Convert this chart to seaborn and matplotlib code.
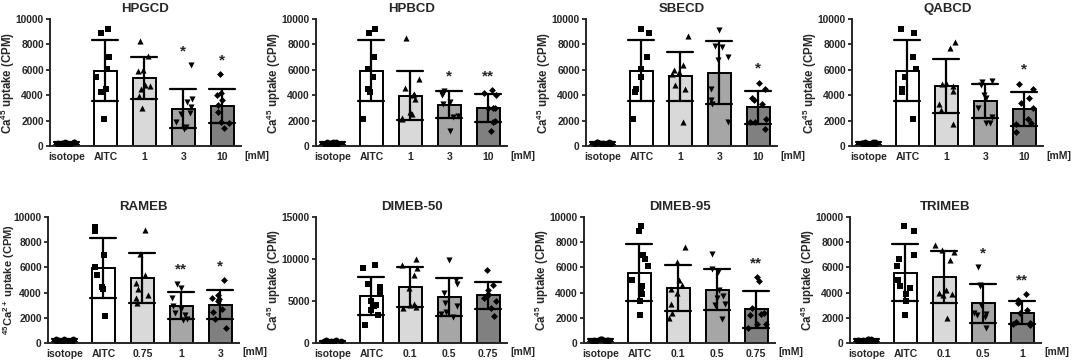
import numpy as np
import pandas as pd
import matplotlib
matplotlib.use("Agg")
import matplotlib.pyplot as plt
import seaborn as sns

sns.set_theme(style="ticks")
plt.rcParams['font.family'] = ['Liberation Sans', 'DejaVu Sans']
plt.rcParams['font.weight'] = 'bold'
plt.rcParams['mathtext.fontset'] = 'custom'
plt.rcParams['mathtext.rm'] = 'Liberation Sans:bold'
plt.rcParams['mathtext.bf'] = 'Liberation Sans:bold'
plt.rcParams['mathtext.it'] = 'Liberation Sans:bold'

# ---------------- data ----------------
titles = ["HPGCD", "HPBCD", "SBECD", "QABCD", "RAMEB", "DIMEB-50", "DIMEB-95", "TRIMEB"]
conc_labels = [["1", "3", "10"], ["1", "3", "10"], ["1", "3", "10"], ["1", "3", "10"],
               ["0.75", "1", "3"], ["0.1", "0.5", "0.75"], ["0.1", "0.5", "0.75"], ["0.1", "0.5", "1"]]
stars = [["", "*", "*"], ["", "*", "**"], ["", "", "*"], ["", "", "*"],
         ["", "**", "*"], ["", "", ""], ["", "", "**"], ["", "*", "**"]]
ymax = [10000, 10000, 10000, 10000, 10000, 15000, 10000, 10000]

isotope = [100, 150, 200, 250, 300, 350, 180, 120, 220, 280, 60, 140]
aitc_a = [9230, 8870, 7000, 6070, 5410, 4460, 4270, 2140]
aitc_b = [9300, 8900, 7000, 6700, 6100, 5000, 4500, 4400, 3900, 3300, 2200]

hpgcd = [[8300, 7050, 5950, 5900, 4800, 4700, 4500, 3950, 3000],
         [6350, 3700, 3500, 3100, 2600, 2500, 1900, 1500, 1300],
         [5650, 4050, 4150, 3600, 3200, 2700, 1900, 1800, 1400]]
hpbcd = [[8500, 5300, 4600, 4100, 4000, 3700, 2700, 2500, 2200, 2100],
         [4350, 4200, 4100, 4050, 3500, 3300, 2400, 2300, 1200],
         [4400, 4200, 4000, 3000, 3000, 3000, 2000, 1900, 1200]]
sbecd = [[8700, 6400, 6000, 5800, 5700, 4800, 4500, 1900],
         [9100, 7900, 7800, 7000, 6800, 4500, 3600, 3300, 1900],
         [5000, 4500, 3800, 3600, 3300, 2100, 1900, 1900, 1300]]
qabcd = [[8200, 7700, 5000, 4900, 4700, 4300, 3300, 2800, 1700],
         [5100, 5050, 4800, 4000, 3800, 3000, 2300, 1800, 1800],
         [4900, 4500, 3800, 3400, 3000, 2100, 1800, 1700, 1100]]
rameb = [[9000, 7100, 5400, 4800, 4300, 3800, 3600, 3200],
         [4700, 4400, 3600, 2900, 2700, 2400, 2200, 1900, 1800],
         [5000, 3800, 3600, 3500, 3300, 2700, 2500, 1900, 1200]]
dimeb50 = [[10000, 9300, 8900, 8100, 6500, 4700, 4500, 4300, 4200],
           [9900, 7500, 7000, 6000, 4800, 4400, 3700, 3400, 3100],
           [8700, 6900, 6300, 5800, 5600, 5400, 5000, 4200, 3200]]
dimeb95 = [[7600, 6400, 5000, 4600, 4300, 4000, 3100, 2400, 2000],
           [7100, 5900, 5600, 4200, 3700, 3600, 3100, 3000, 1900],
           [5200, 4900, 2800, 2400, 2300, 2200, 1500, 1500, 1200]]
trimeb = [[7800, 7400, 7200, 6600, 4200, 4000, 3900, 3800, 2000],
          [6000, 4600, 4500, 3000, 2400, 2300, 2200, 2100, 1200],
          [3900, 3400, 3200, 2600, 2400, 1700, 1600, 1500, 1400]]

treatments = [hpgcd, hpbcd, sbecd, qabcd, rameb, dimeb50, dimeb95, trimeb]
aitc_sets = [aitc_a, aitc_a, aitc_a, aitc_a, aitc_a, aitc_b, aitc_b, aitc_b]

ylabel_std = r"Ca$^{\mathbf{45}}$ uptake (CPM)"
ylabel_rameb = r"$^{\mathbf{45}}$Ca$^{\mathbf{2+}}$ uptake (CPM)"

# ---------------- style ----------------
bar_colors = ["white", "white", "#d9d9d9", "#a6a6a6", "#808080"]
markers = ["o", "s", "^", "v", "D"]
marker_sizes = [4.2, 4.4, 4.4, 4.4, 3.5]

W, H = 1072, 361
fig = plt.figure(figsize=(W / 100, H / 100), dpi=100)

lefts_top = [50, 316, 586, 852]
lefts_bot = [48, 316, 584, 850]
axw = 191

np.random.seed(3)
for i in range(8):
    row = i // 4
    col = i % 4
    if row == 0:
        left, top, bottom = lefts_top[col], 19, 146
    else:
        left, top, bottom = lefts_bot[col], 217, 343
    ax = fig.add_axes([left / W, 1 - bottom / H, axw / W, (bottom - top) / H])

    cats = ["isotope", "AITC"] + conc_labels[i]
    groups = [isotope, aitc_sets[i]] + treatments[i]
    rows = []
    for c, g in zip(cats, groups):
        for v in g:
            rows.append((c, v))
    df = pd.DataFrame(rows, columns=["group", "value"])

    sns.barplot(data=df, x="group", y="value", order=cats, hue="group",
                hue_order=cats, palette=bar_colors, legend=False,
                errorbar="sd", width=0.58, capsize=0.66,
                edgecolor="black", linewidth=1.4,
                err_kws={"color": "black", "linewidth": 1.6}, ax=ax)
    for j, (c, g) in enumerate(zip(cats, groups)):
        sub = df[df.group == c]
        sns.stripplot(data=sub, x="group", y="value", order=cats, color="black",
                      marker=markers[j], size=marker_sizes[j], jitter=0.24,
                      linewidth=0, ax=ax, zorder=3)

    # significance stars
    for j, s in enumerate(stars[i]):
        if s:
            top_val = max(treatments[i][j])
            ax.text(2 + j, top_val + ymax[i] * 0.11, s, ha="center", va="center",
                    fontsize=11, fontweight="bold")

    ax.set_xlim(-0.42, 4.48)
    ax.set_ylim(0, ymax[i])
    step = 5000 if ymax[i] == 15000 else 2000
    ticks = np.arange(0, ymax[i] + 1, step)
    ax.set_yticks(ticks)
    ax.set_yticklabels([str(int(t)) for t in ticks])
    ax.set_xlabel("")
    if i == 4:
        ax.set_ylabel(ylabel_rameb, fontsize=8.0, fontweight="bold")
        ax.yaxis.set_label_coords(-31 / axw, 0.5)
    else:
        ax.set_ylabel(ylabel_std, fontsize=8.3, fontweight="bold")
        ax.yaxis.set_label_coords(-33 / axw, 0.5)
    ax.set_title(titles[i], fontsize=9.5, fontweight="bold", pad=5)
    ax.tick_params(axis="y", labelsize=7.4, width=1.3, length=3, pad=1.5)
    ax.tick_params(axis="x", labelsize=7.5, length=0, pad=4)
    for lab in ax.get_xticklabels() + ax.get_yticklabels():
        lab.set_fontweight("bold")
    sns.despine(ax=ax)
    for sp in ["left", "bottom"]:
        ax.spines[sp].set_linewidth(1.4)
    ax.text(1.085, -0.075, "[mM]", transform=ax.transAxes, ha="center",
            va="center", fontsize=7.5, fontweight="bold")
    ax.set_facecolor("none")

fig.patch.set_facecolor("white")
fig.savefig("out.png", dpi=100, facecolor="white")
